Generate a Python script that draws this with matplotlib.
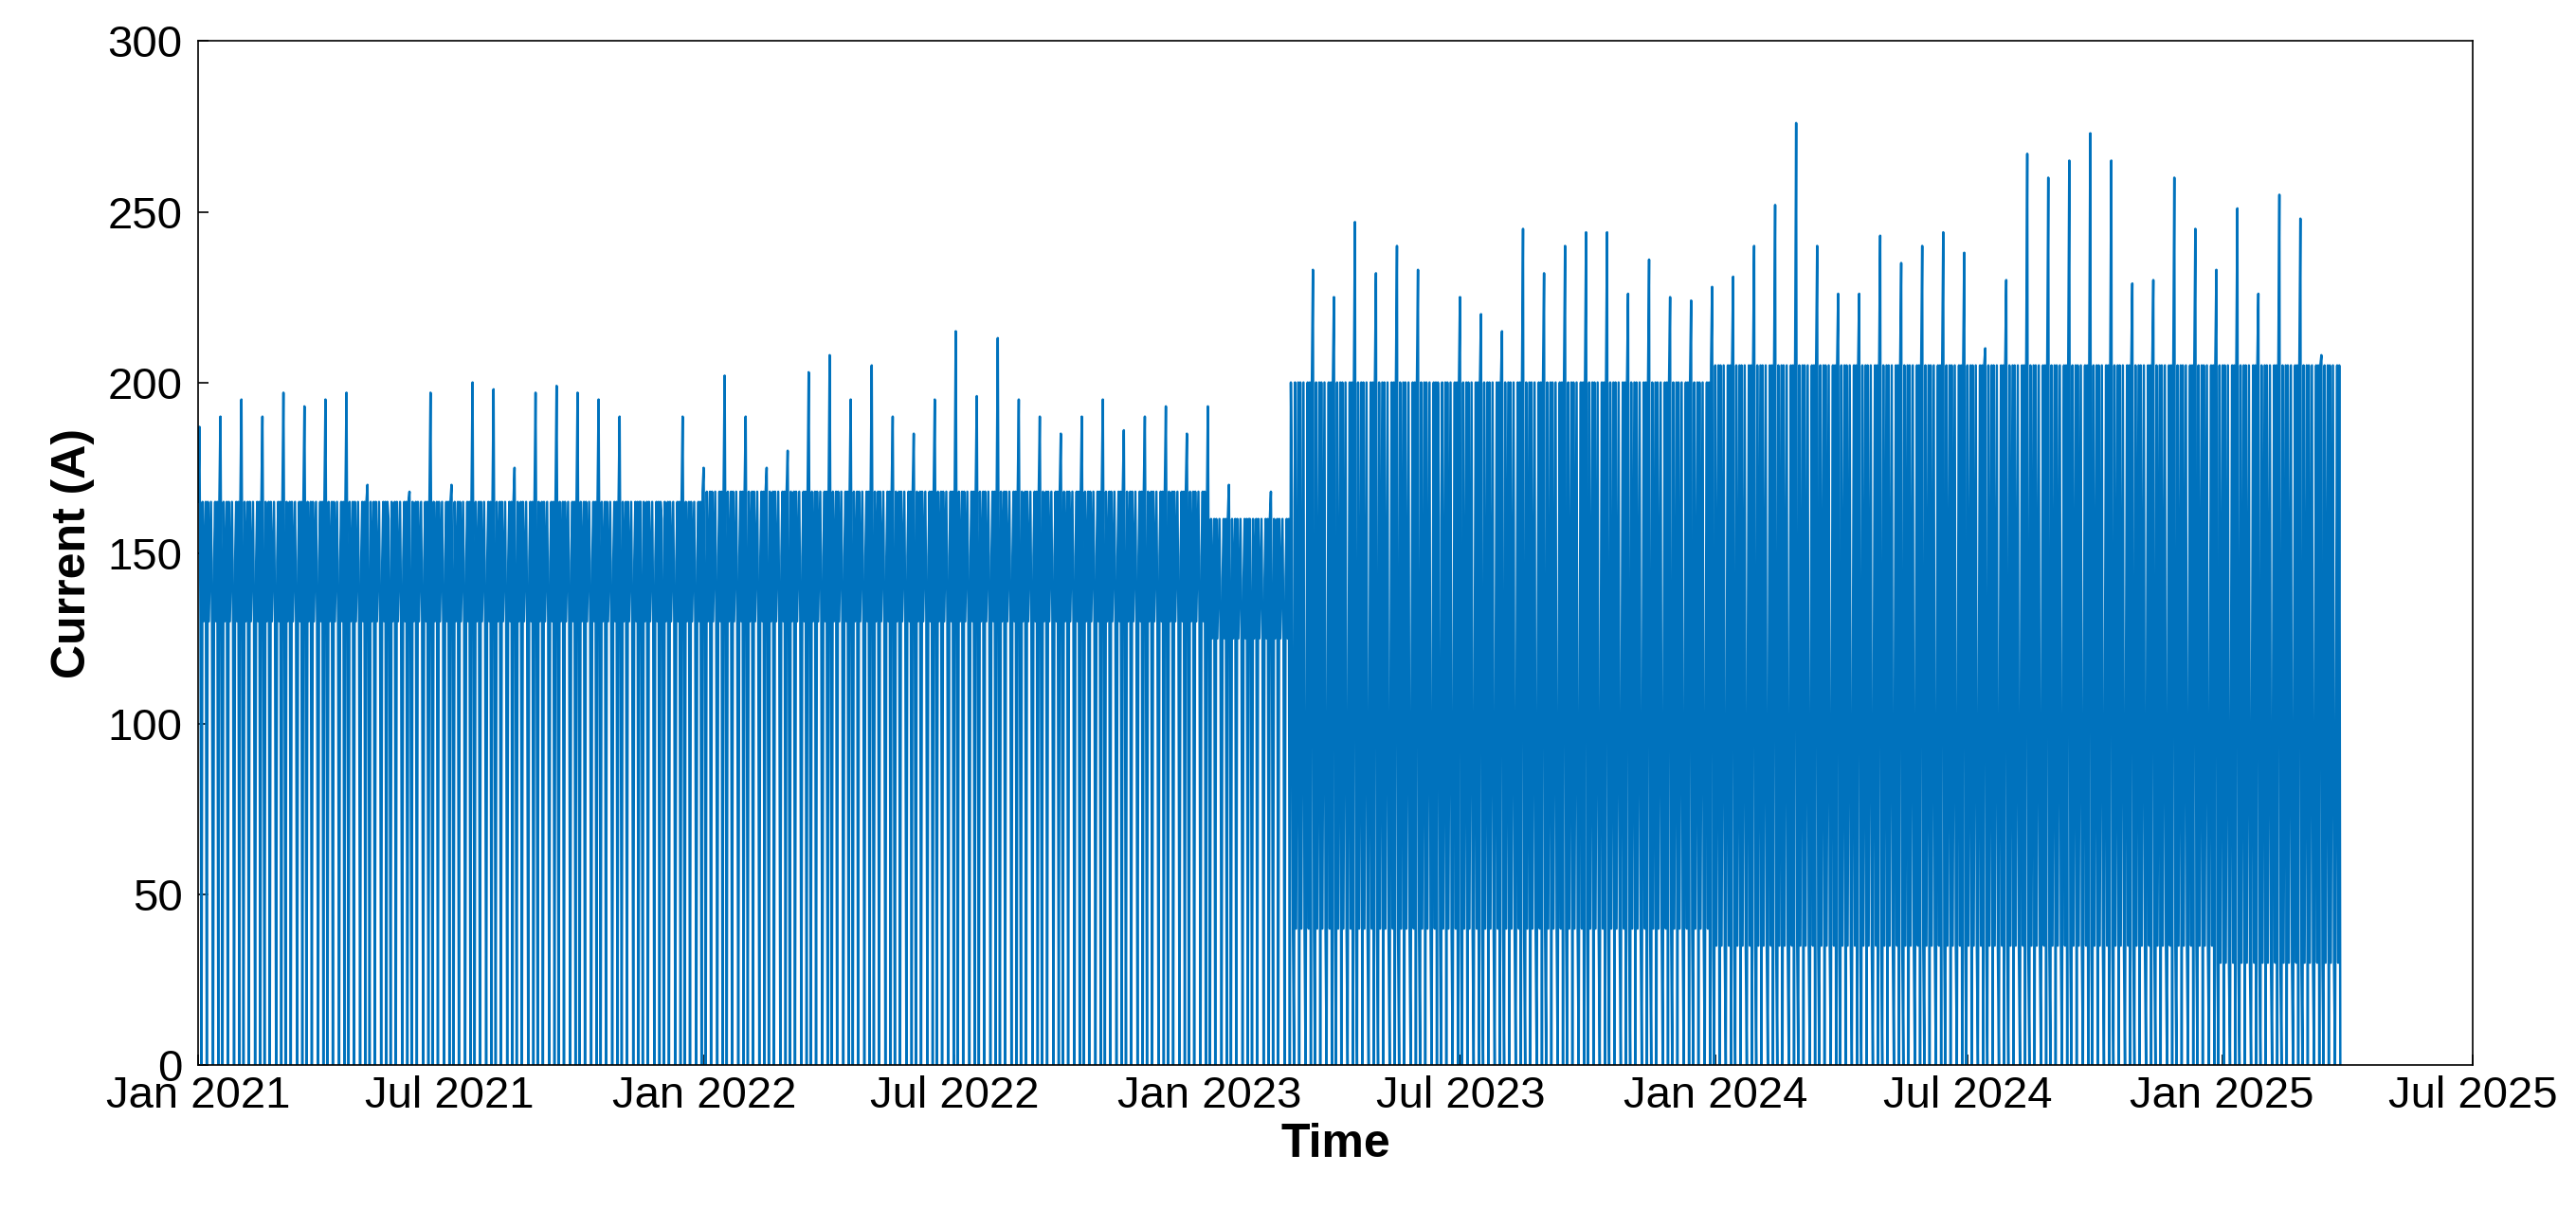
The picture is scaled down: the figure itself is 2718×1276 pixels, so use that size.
import numpy as np
import matplotlib
matplotlib.use("Agg")
import matplotlib.pyplot as plt
import matplotlib.dates as mdates
import pandas as pd

# Peak value per half-month, Jan 2021 .. Mar 2025
peaks = [187,190,195,190,197,193,195,197,170,160,168,197,170,200,198,175,197,199,197,195,190,165,160,190,
         175,202,190,175,180,203,208,195,205,190,185,195,215,196,213,195,190,185,190,195,186,190,193,185,
         193,170,160,168,165,233,225,247,232,240,233,160,225,220,215,245,232,240,244,244,226,236,225,224,
         228,231,240,252,276,240,226,226,243,235,240,244,238,210,230,267,260,265,273,265,229,230,260,245,
         233,251,226,255,248,208]
# Upper level of the dense band per half-month
band_hi = [165]*24 + [168]*24 + [160]*4 + [200]*20 + [205]*24 + [205]*6
# Lower level of the dense band per half-month
band_lo = [130]*24 + [130]*24 + [125]*4 + [40]*20 + [35]*24 + [30]*6
# Deep dip value per half-month
dips = [0]*102

start = pd.Timestamp("2021-01-01")
end = pd.Timestamp("2025-03-28")
edges = pd.date_range(start, end, periods=len(peaks) + 1)

t, y = [], []
for i in range(len(peaks)):
    h, l, d = band_hi[i], band_lo[i], dips[i]
    m = (h + l) / 2
    seg = [h, peaks[i], l, d, h, l, m, h, d, h, l, m, h, l, d, m, h, l, h, d]
    ts = pd.date_range(edges[i], edges[i + 1], periods=len(seg) + 1)[:-1]
    t.extend(ts); y.extend(seg)

plt.rcParams['font.family'] = ['Liberation Sans', 'DejaVu Sans']
fig = plt.figure(figsize=(27.18, 12.76), dpi=100)
ax = fig.add_axes([0.077, 0.119, 0.883, 0.847])
ax.plot(t, y, color='#0072BD', lw=1.8)
ax.set_xlim(pd.Timestamp("2021-01-01"), pd.Timestamp("2025-07-01"))
ax.set_ylim(0, 300)
ax.set_yticks(range(0, 301, 50))
ax.xaxis.set_major_locator(mdates.MonthLocator(bymonth=[1, 7]))
ax.xaxis.set_major_formatter(mdates.DateFormatter('%b %Y'))
ax.tick_params(labelsize=34, direction='in', length=8, width=1.2, pad=8)
ax.tick_params(axis='y', pad=12)
for s in ax.spines.values():
    s.set_linewidth(1.2)
ax.set_xlabel('Time', fontsize=36, fontweight='bold', labelpad=4)
ax.set_ylabel('Current (A)', fontsize=36, fontweight='bold', labelpad=10)
fig.savefig('out.png', dpi=100)
